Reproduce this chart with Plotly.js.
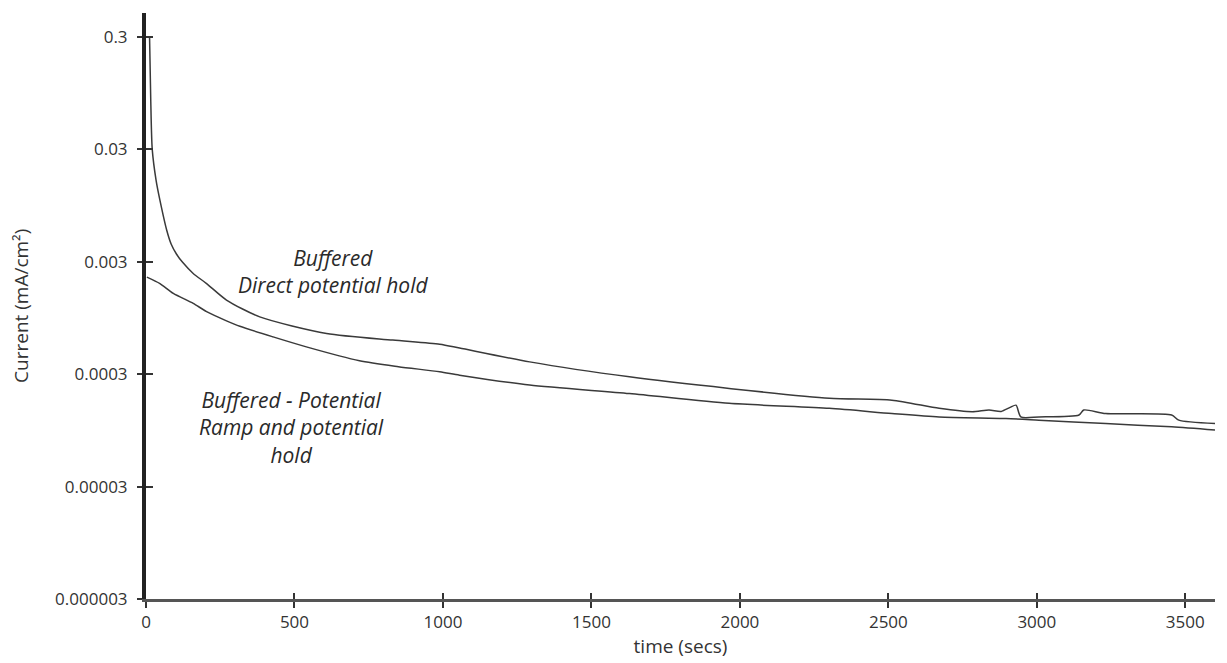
<!DOCTYPE html>
<html>
<head>
<meta charset="utf-8">
<script src="https://cdn.plot.ly/plotly-3.0.1.min.js"></script>
<style>html,body{margin:0;padding:0;background:#fff;}#chart{width:1227px;height:663px;}</style>
</head>
<body>
<div id="chart"></div>
<script>
// Buffered – Direct potential hold
const directTime = [12, 16, 21, 34, 47, 70, 85, 103, 124, 159, 204, 271, 383, 608, 831, 989, 1056, 1292, 1628, 1964, 2301, 2512, 2671, 2782, 2839, 2880, 2910, 2930, 2946, 3007, 3142, 3158, 3232, 3454, 3478, 3600];
const directCurrent = [0.3, 0.082, 0.03, 0.0159, 0.01055, 0.0057, 0.0043, 0.0035, 0.00295, 0.00236, 0.00192, 0.00137, 0.00097, 0.000691, 0.000603, 0.000554, 0.000512, 0.000386, 0.000284, 0.000224, 0.000183, 0.000176, 0.000149, 0.000139, 0.000144, 0.000140, 0.000152, 0.000159, 0.000125, 0.000125, 0.00013, 0.000144, 0.000134, 0.00013, 0.000117, 0.000109];

// Buffered – Potential ramp and potential hold
const rampTime = [3, 47, 92, 159, 204, 271, 316, 428, 540, 719, 850, 989, 1056, 1292, 1628, 1964, 2301, 2512, 2671, 2896, 3007, 3232, 3454, 3600];
const rampCurrent = [0.00219, 0.00192, 0.00157, 0.00128, 0.00108, 0.000895, 0.0008, 0.000644, 0.000525, 0.000395, 0.00035, 0.000315, 0.000294, 0.00024, 0.000202, 0.000165, 0.000149, 0.000134, 0.000125, 0.000121, 0.000117, 0.000109, 0.000102, 0.0000954];

const yTickVals = [0.000003, 0.00003, 0.0003, 0.003, 0.03, 0.3];
const yTickText = ["0.000003", "0.00003", "0.0003", "0.003", "0.03", "0.3"];
const xTickVals = [0, 500, 1000, 1500, 2000, 2500, 3000, 3500];

const labelDirect = "Buffered<br>Direct potential hold";
const labelRamp = "Buffered - Potential<br>Ramp and potential<br>hold";
const yTitle = "Current (mA/cm²)";
const xTitle = "time (secs)";

const yRange = [Math.log10(0.000003), Math.log10(0.49)];
const xRange = [0, 3600];
const font = "'Open Sans', 'DejaVu Sans', sans-serif";

const traces = [
  {x: directTime, y: directCurrent, type: 'scatter', mode: 'lines', name: 'Direct potential hold',
   line: {color: '#3a3a3a', width: 1.5, shape: 'spline', smoothing: 0.7}},
  {x: rampTime, y: rampCurrent, type: 'scatter', mode: 'lines', name: 'Ramp and potential hold',
   line: {color: '#3a3a3a', width: 1.5, shape: 'spline', smoothing: 0.7}}
];

const layout = {
  width: 1227, height: 663,
  margin: {l: 146, r: 12, t: 13, b: 64},
  paper_bgcolor: '#fff', plot_bgcolor: '#fff',
  showlegend: false,
  font: {family: font, size: 17, color: '#333'},
  xaxis: {
    range: xRange, tickvals: xTickVals, ticks: 'outside', ticklen: 6, tickwidth: 2, tickcolor: '#333',
    showline: true, linecolor: '#555', linewidth: 3, showgrid: false, zeroline: false,
    tickfont: {size: 17, color: '#333'},
    title: {text: xTitle, font: {size: 19, color: '#333'}, standoff: 2}
  },
  yaxis: {
    type: 'log', range: yRange, tickvals: yTickVals, ticktext: yTickText,
    ticks: 'outside', ticklen: 5, tickwidth: 2, tickcolor: '#333', ticklabelstandoff: 6,
    showline: true, linecolor: '#222', linewidth: 4, showgrid: false, zeroline: false,
    tickfont: {size: 17, color: '#333'}
  },
  xaxis2: {
    overlaying: 'x', anchor: 'y', range: xRange, tickvals: xTickVals, ticks: 'inside', ticklen: 6,
    tickwidth: 2, tickcolor: '#333', showticklabels: false, showline: false, showgrid: false, zeroline: false
  },
  yaxis2: {
    overlaying: 'y', anchor: 'x', side: 'left', type: 'log', range: yRange, tickvals: yTickVals,
    ticks: 'inside', ticklen: 7, tickwidth: 2, tickcolor: '#333', showticklabels: false,
    showline: false, showgrid: false, zeroline: false
  },
  annotations: [
    {x: -0.117, y: 0.5, xref: 'paper', yref: 'paper', text: yTitle, textangle: -90, showarrow: false,
     xanchor: 'center', yanchor: 'middle', font: {family: font, size: 19, color: '#333'}},
    {x: 629, y: -2.6065, xref: 'x', yref: 'y', text: labelDirect, showarrow: false,
     font: {family: font, size: 21, color: '#2a2a2a', style: 'italic'}, align: 'center'},
    {x: 491, y: -3.998, xref: 'x', yref: 'y', text: labelRamp, showarrow: false,
     font: {family: font, size: 21, color: '#2a2a2a', style: 'italic'}, align: 'center'}
  ]
};

traces.push({x: [], y: [], xaxis: 'x2', yaxis: 'y2', type: 'scatter', mode: 'lines', hoverinfo: 'skip', showlegend: false});

Plotly.newPlot('chart', traces, layout, {displayModeBar: false, staticPlot: true});
</script>
</body>
</html>
